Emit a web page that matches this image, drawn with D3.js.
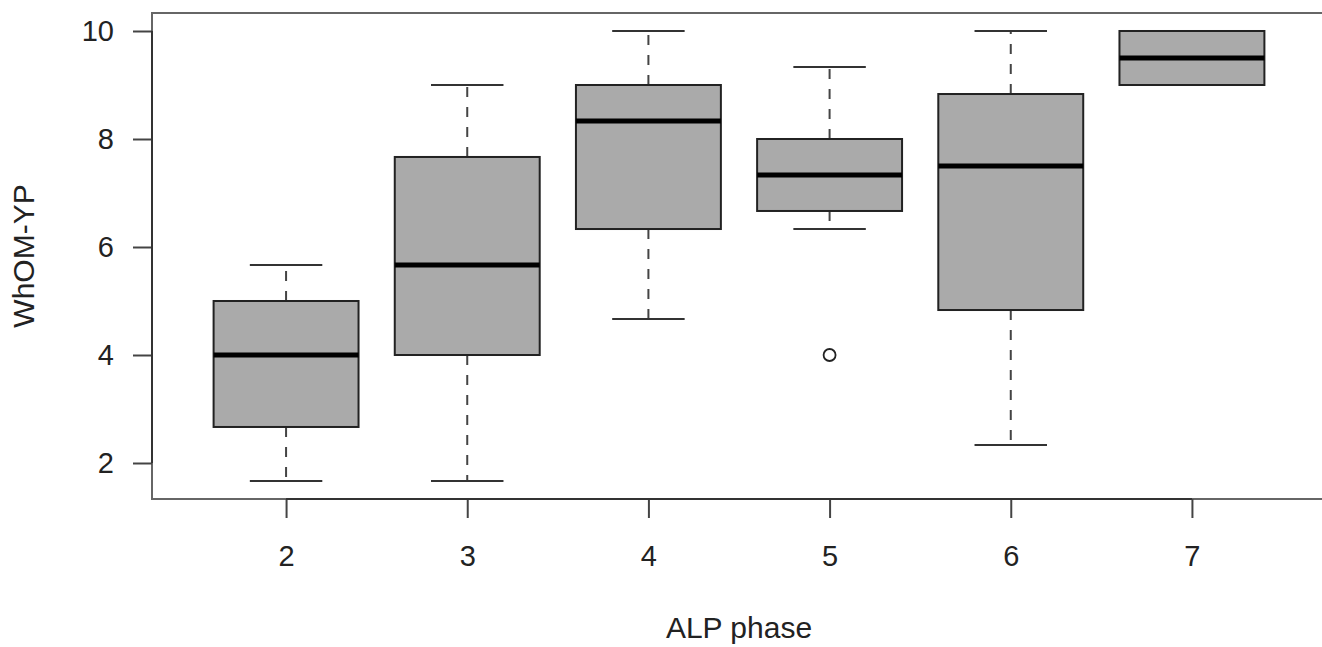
<!DOCTYPE html>
<html>
<head>
<meta charset="utf-8">
<script src="https://cdn.jsdelivr.net/npm/d3@7"></script>
<style>
  body { margin: 0; background: #fff; }
  text { font-family: "Liberation Sans", Arial, sans-serif; fill: #222; }
</style>
</head>
<body>
<div id="container"></div>
<script>
const width = 1322, height = 647;

// data
const phases = ["2", "3", "4", "5", "6", "7"];
const lowWhisker = [1.667, 1.667, 4.667, 6.333, 2.333, 9];
const q1 = [2.667, 4, 6.333, 6.667, 4.833, 9];
const medians = [4, 5.667, 8.333, 7.333, 7.5, 9.5];
const q3 = [5, 7.667, 9, 8, 8.833, 10];
const highWhisker = [5.667, 9, 10, 9.333, 10, 10];
const outliers = [{phase: "5", value: 4}];
const yTicks = [2, 4, 6, 8, 10];

const boxes = phases.map((p, i) => ({
  phase: p, i: i + 1,
  lo: lowWhisker[i], q1: q1[i], med: medians[i], q3: q3[i], hi: highWhisker[i]
}));

const svg = d3.select("#container").append("svg")
  .attr("width", width)
  .attr("height", height)

/* SCALES */
const xScale = d3.scaleLinear()
  .domain([0.26, 6.74])
  .range([152, 1326])

const yScale = d3.scaleLinear()
  .domain([1.3333, 10.3333])
  .range([499, 13])

const half = xScale(1.4) - xScale(1)   // box half width
const capHalf = xScale(1.2) - xScale(1)

// frame
svg.append("rect")
  .attr("x", xScale(0.26))
  .attr("y", yScale(10.3333))
  .attr("width", xScale(6.74) - xScale(0.26))
  .attr("height", yScale(1.3333) - yScale(10.3333))
  .attr("fill", "none")
  .attr("stroke", "#666")
  .attr("stroke-width", 2)

/* BOXES */
const g = svg.selectAll("g.box")
  .data(boxes)
  .join("g")
  .attr("class", "box")

// whiskers (dashed)
g.append("line")
  .attr("x1", d => xScale(d.i)).attr("x2", d => xScale(d.i))
  .attr("y1", d => yScale(d.q1)).attr("y2", d => yScale(d.lo))
  .attr("stroke", "#444").attr("stroke-width", 2)
  .attr("stroke-dasharray", "10,10")
g.append("line")
  .attr("x1", d => xScale(d.i)).attr("x2", d => xScale(d.i))
  .attr("y1", d => yScale(d.q3)).attr("y2", d => yScale(d.hi))
  .attr("stroke", "#444").attr("stroke-width", 2)
  .attr("stroke-dasharray", "10,10")

// caps
g.append("line")
  .attr("x1", d => xScale(d.i) - capHalf).attr("x2", d => xScale(d.i) + capHalf)
  .attr("y1", d => yScale(d.lo)).attr("y2", d => yScale(d.lo))
  .attr("stroke", "#333").attr("stroke-width", 2)
g.append("line")
  .attr("x1", d => xScale(d.i) - capHalf).attr("x2", d => xScale(d.i) + capHalf)
  .attr("y1", d => yScale(d.hi)).attr("y2", d => yScale(d.hi))
  .attr("stroke", "#333").attr("stroke-width", 2)

// box
g.append("rect")
  .attr("x", d => xScale(d.i) - half)
  .attr("y", d => yScale(d.q3))
  .attr("width", half * 2)
  .attr("height", d => yScale(d.q1) - yScale(d.q3))
  .attr("fill", "#aaaaaa")
  .attr("stroke", "#222")
  .attr("stroke-width", 2)

// median
g.append("line")
  .attr("x1", d => xScale(d.i) - half).attr("x2", d => xScale(d.i) + half)
  .attr("y1", d => yScale(d.med)).attr("y2", d => yScale(d.med))
  .attr("stroke", "#000").attr("stroke-width", 5)

// outliers
svg.selectAll("circle.out")
  .data(outliers)
  .join("circle")
  .attr("class", "out")
  .attr("cx", d => xScale(phases.indexOf(d.phase) + 1))
  .attr("cy", d => yScale(d.value))
  .attr("r", 6)
  .attr("fill", "none")
  .attr("stroke", "#222")
  .attr("stroke-width", 1.8)

/* AXES */
const xAxis = d3.axisBottom(xScale)
  .tickValues(d3.range(1, phases.length + 1))
  .tickFormat(d => phases[d - 1])
  .tickSizeInner(19).tickSizeOuter(0).tickPadding(27)

const yAxis = d3.axisLeft(yScale)
  .tickValues(yTicks)
  .tickSizeInner(19).tickSizeOuter(0).tickPadding(19)

const gx = svg.append("g")
  .attr("transform", `translate(0, ${yScale(1.3333)})`)
  .call(xAxis)
gx.select(".domain").remove()
gx.append("line")
  .attr("x1", xScale(1)).attr("x2", xScale(phases.length))
  .attr("stroke", "#333").attr("stroke-width", 2)

const gy = svg.append("g")
  .attr("transform", `translate(${xScale(0.26)}, 0)`)
  .call(yAxis)
gy.select(".domain").remove()
gy.append("line")
  .attr("y1", yScale(2)).attr("y2", yScale(10))
  .attr("stroke", "#333").attr("stroke-width", 2)

svg.selectAll(".tick line").attr("stroke", "#444").attr("stroke-width", 2)
svg.selectAll(".tick text")
  .style("font-size", "29px")
  .style("font-family", "'Liberation Sans', Arial, sans-serif")
  .attr("fill", "#222")

/* LABELS */
svg.append("text")
  .attr("text-anchor", "middle")
  .style("font-size", "30px")
  .attr("x", xScale(3.5))
  .attr("y", 638)
  .text("ALP phase")

svg.append("text")
  .attr("text-anchor", "middle")
  .attr("transform", `translate(34, ${yScale(5.8333)}) rotate(-90)`)
  .style("font-size", "30px")
  .text("WhOM-YP")
</script>
</body>
</html>
